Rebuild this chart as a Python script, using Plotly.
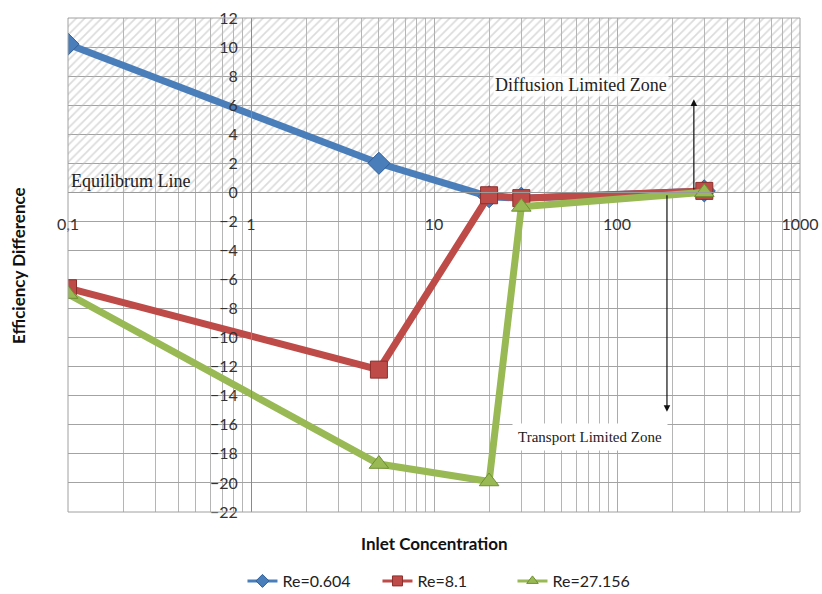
import plotly.graph_objects as go

# Inlet concentration values (log scale)
conc = [0.1, 5, 20, 30, 300]

# Efficiency difference for each Reynolds number
eff_re0604 = [10.2, 2.0, -0.3, -0.4, 0.1]
eff_re81 = [-6.6, -12.2, -0.2, -0.4, 0.1]
eff_re27156 = [-7.0, -18.7, -19.9, -1.0, 0.0]

series_names = ["Re=0.604", "Re=8.1", "Re=27.156"]

x_tick_vals = [0.1, 1, 10, 100, 1000]
x_tick_text = ["0,1", "1", "10", "100", "1000"]
y_tick_vals = list(range(-22, 13, 2))

W, H = 822, 594
ML, MR, MT, MB = 68, 22, 18, 82

fig = go.Figure()

# Hatched region above the equilibrium line (diffusion limited zone)
fig.add_trace(go.Scatter(
    x=[0.1, 1000, 1000, 0.1, 0.1], y=[0, 0, 12, 12, 0],
    mode="lines", fill="toself", line=dict(width=0),
    fillcolor="rgba(0,0,0,0)",
    fillpattern=dict(shape="/", fgcolor="#b8b8b8", bgcolor="rgba(0,0,0,0)",
                     size=6, solidity=0.28),
    showlegend=False, hoverinfo="skip",
))

styles = [
    (eff_re0604, "#4a7ebb", "#2f5f98", "diamond", 17),
    (eff_re81, "#be4b48", "#8c2f2c", "square", 17),
    (eff_re27156, "#98b954", "#6e8f32", "triangle-up", 17),
]
for (vals, col, edge, sym, msize), name in zip(styles, series_names):
    fig.add_trace(go.Scatter(
        x=conc, y=vals, name=name, mode="lines+markers",
        line=dict(color=col, width=7),
        marker=dict(symbol=sym, size=msize, color=col,
                    line=dict(color=edge, width=1)),
        showlegend=False, legendgroup=name,
    ))

# Legend keys with thinner line and smaller markers
for (vals, col, edge, sym, msize), name in zip(styles, series_names):
    fig.add_trace(go.Scatter(
        x=[None], y=[None], name=name, mode="lines+markers",
        line=dict(color=col, width=3),
        marker=dict(symbol=sym, size=10, color=col,
                    line=dict(color=edge, width=1)),
        legendgroup=name,
    ))

minor_x = [m * d for d in [0.1, 1, 10, 100] for m in range(2, 10)]

tick_font = dict(family="Lato, 'Open Sans', sans-serif", size=16, color="#333333")

fig.update_xaxes(
    type="log", range=[-1, 3], anchor="free",
    position=(0 - (-22)) / 34.0,
    tickvals=x_tick_vals, ticktext=x_tick_text,
    ticks="outside", ticklen=17, tickcolor="rgba(0,0,0,0)",
    tickfont=tick_font,
    showgrid=True, gridcolor="#ababab", gridwidth=1,
    minor=dict(tickvals=minor_x, showgrid=True, gridcolor="#b5b5b5",
               gridwidth=1, ticks=""),
    showline=True, linecolor="#9a9a9a", linewidth=1,
    zeroline=False,
)
fig.update_yaxes(
    range=[-22, 12], anchor="free", position=0.25,
    tickvals=y_tick_vals,
    ticks="outside", ticklen=10, tickcolor="rgba(0,0,0,0)",
    tickfont=tick_font,
    showgrid=True, gridcolor="#a3a3a3", gridwidth=1,
    showline=True, linecolor="#8a8a8a", linewidth=1,
    zeroline=False,
)

# Plot frame
fig.add_shape(type="rect", xref="paper", yref="paper", x0=0, y0=0, x1=1, y1=1,
              line=dict(color="#a0a0a0", width=1), layer="above")

# Zone arrows
fig.add_annotation(x=2.42, y=6.4, ax=2.42, ay=0.1, xref="x", yref="y",
                   axref="x", ayref="y", showarrow=True, arrowhead=2,
                   arrowsize=1.1, arrowwidth=1.2, arrowcolor="#111111", text="")
fig.add_annotation(x=2.273, y=-15.1, ax=2.273, ay=-0.1, xref="x", yref="y",
                   axref="x", ayref="y", showarrow=True, arrowhead=2,
                   arrowsize=1.1, arrowwidth=1.2, arrowcolor="#111111", text="")

serif = "Liberation Serif, Times New Roman, serif"
fig.add_annotation(x=1.803, y=7.4, xref="x", yref="y", text="Diffusion Limited Zone",
                   showarrow=False, font=dict(family=serif, size=18, color="#222222"),
                   bgcolor="rgba(255,255,255,0.85)")
fig.add_annotation(x=-1, y=0.8, xref="x", yref="y", text="Equilibrum Line",
                   xanchor="left", xshift=1, showarrow=False,
                   font=dict(family=serif, size=18, color="#222222"))
fig.add_annotation(x=1.852, y=-16.85, xref="x", yref="y", text="Transport Limited Zone",
                   showarrow=False, font=dict(family=serif, size=15, color="#222222"),
                   bgcolor="white", borderpad=5)

# Axis titles
title_font = dict(family="Lato, 'Open Sans', sans-serif", size=17, color="#111111")
fig.add_annotation(x=(18 - ML) / (W - ML - MR), y=0.5, xref="paper", yref="paper",
                   text="<b>Efficiency Difference</b>", textangle=-90,
                   showarrow=False, font=title_font,
                   xanchor="center", yanchor="middle")
fig.add_annotation(x=0.5, y=-(543 - (H - MB)) / (H - MT - MB), xref="paper",
                   yref="paper", text="<b>Inlet Concentration</b>",
                   showarrow=False, font=title_font,
                   xanchor="center", yanchor="middle")

fig.update_layout(
    width=W, height=H,
    margin=dict(l=ML, r=MR, t=MT, b=MB, autoexpand=False),
    paper_bgcolor="white", plot_bgcolor="white",
    legend=dict(orientation="h", x=0.515, xanchor="center",
                y=-(581 - (H - MB)) / (H - MT - MB), yanchor="middle",
                font=dict(family="Lato, 'Open Sans', sans-serif", size=16,
                          color="#222222"),
                itemwidth=30, entrywidth=90),
    showlegend=True,
)

fig.write_html("out.html")
